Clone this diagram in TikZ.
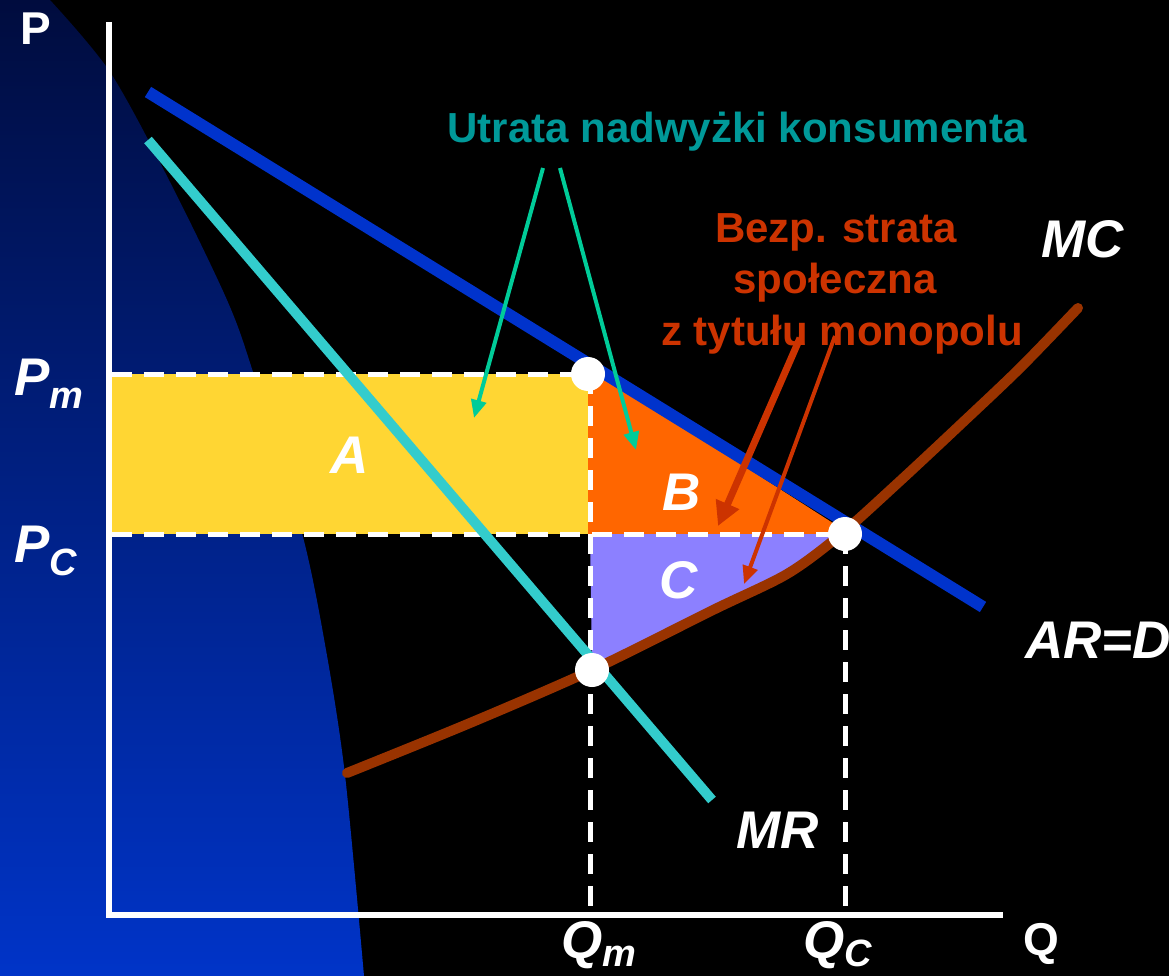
\documentclass[tikz,border=0pt]{standalone}
\usepackage{fontspec}
\setmainfont{Liberation Sans}
\usetikzlibrary{arrows.meta}
\definecolor{demandblue}{HTML}{0033CC}
\definecolor{mrcyan}{HTML}{33CCCC}
\definecolor{mcbrown}{HTML}{993300}
\definecolor{areaA}{HTML}{FFD633}
\definecolor{areaB}{HTML}{FF6600}
\definecolor{areaC}{HTML}{8C80FF}
\definecolor{tealtext}{HTML}{009999}
\definecolor{greenarrow}{HTML}{00CC99}
\definecolor{redtext}{HTML}{CC3300}
\definecolor{bgtop}{RGB}{0,12,62}
\definecolor{bgbottom}{RGB}{0,52,200}
\newcommand\subfnt{\fontsize{38}{38}\selectfont}
\begin{document}
\begin{tikzpicture}[x=1pt,y=-1pt,
  lab/.style={text=white,font=\fontsize{53}{60}\selectfont\bfseries\itshape,inner sep=0pt},
  axlab/.style={text=white,font=\fontsize{46}{50}\selectfont\bfseries,inner sep=0pt},
  note/.style={font=\fontsize{42}{51}\selectfont\bfseries,inner sep=0pt,align=center},
  dot/.style={circle,fill=white,minimum size=34pt,inner sep=0pt},
  guide/.style={white,line width=5pt,dash pattern=on 20pt off 12pt},
  axis/.style={white,line width=6pt},
  garrow/.style={greenarrow,line width=4pt,-{Triangle[length=18pt,width=15pt]}},
  rarrow/.style={redtext}
]
\useasboundingbox (0,0) rectangle (1169,976);
\fill[black] (0,0) rectangle (1169,976);
% left background shape
\shade[top color=bgtop,bottom color=bgbottom]
  (0,0) -- plot[smooth] coordinates {(50,0)(110,72)(170,182)(227,300)(253,372)(302,533)(326,650)(345,775)(364,976)} -- (0,976) -- cycle;
% areas
\fill[areaA] (112,374) rectangle (588,534);
\fill[areaB] (588,366) -- (588,534) -- (850,534) -- cycle;
\fill[areaC] (590,534) -- (845,534) -- plot[smooth] coordinates {(840,535)(787,574)(713,610)(592,670)} -- cycle;
% axes
\draw[axis] (109,22) -- (109,915) -- (1003,915);
% guides
\draw[guide] (112,374) -- (588,374);
\draw[guide] (112,534) -- (845,534);
\draw[guide] (590,374) -- (590,915);
\draw[guide] (845,534) -- (845,915);
% curves
\draw[demandblue,line width=12pt] (148,92) -- (983,607);
\draw[mrcyan,line width=10pt] (148,140) -- (712,800);
\draw[mcbrown,line width=10pt,line cap=round] plot[smooth] coordinates {(347,773)(470,723)(592,670)(713,610)(787,574)(840,535)(900,481)(960,425)(1020,368)(1078,308)};
% points
\node[dot] (Em) at (588,374) {};
\node[dot] (Ec) at (845,534) {};
\node[dot] (Emr) at (592,670) {};
% labels
\node[axlab,anchor=base] (P) at (36,45) {P};
\node[axlab,anchor=base] (Q) at (1041,955) {Q};
\node[lab,anchor=base west] (Pm) at (14,395) {P\raisebox{-13pt}{\subfnt m}};
\node[lab,anchor=base west] (Pc) at (14,562) {P\raisebox{-13pt}{\subfnt C}};
\node[lab,anchor=base west] (Qm) at (561,958) {Q\raisebox{-8pt}{\subfnt m}};
\node[lab,anchor=base west] (Qc) at (803,958) {Q\raisebox{-8pt}{\subfnt C}};
\node[lab,anchor=base] (A) at (350,473) {A};
\node[lab,anchor=base] (B) at (682,510) {B};
\node[lab,anchor=base] (C) at (679,598) {C};
\node[lab,anchor=base] (MC) at (1083,258) {MC};
\node[lab,anchor=base] (MR) at (778,848) {MR};
\node[lab,anchor=base west] (ARD) at (1025,658) {AR=D};
\node[note,text=tealtext,anchor=base] (loss) at (737,143) {Utrata nadwyżki konsumenta};
\node[note,text=redtext,anchor=base] (dwl1) at (836,243) {Bezp. strata};
\node[note,text=redtext,anchor=base] (dwl2) at (835,293) {społeczna};
\node[note,text=redtext,anchor=base] (dwl3) at (842,345) {z tytułu monopolu};
% arrows
\coordinate (g1s) at (543,168);
\coordinate (g1e) at (474,418);
\coordinate (g2s) at (560,168);
\coordinate (g2e) at (636,450);
\draw[garrow] (g1s) -- (g1e);
\draw[garrow] (g2s) -- (g2e);
\coordinate (r1s) at (800,338);
\coordinate (r1e) at (718,526);
\coordinate (r2s) at (835,336);
\coordinate (r2e) at (744,584);
\draw[rarrow,line width=7pt,-{Triangle[length=24pt,width=24pt]}] (r1s) -- (r1e);
\draw[rarrow,line width=4pt,-{Triangle[length=18pt,width=15pt]}] (r2s) -- (r2e);
\end{tikzpicture}
\end{document}
